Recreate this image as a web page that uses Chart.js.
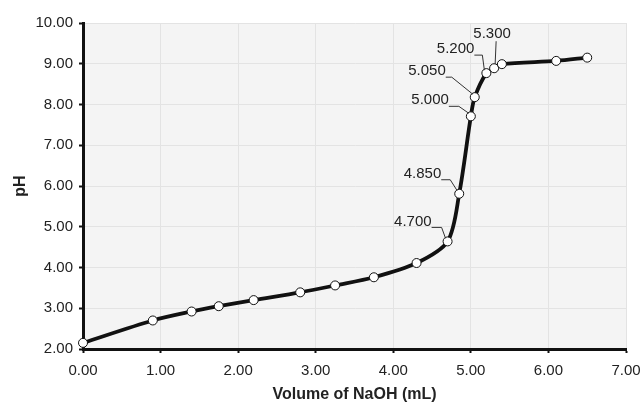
<!DOCTYPE html>
<html>
<head>
<meta charset="utf-8">
<script src="https://cdn.jsdelivr.net/npm/chart.js@4/dist/chart.umd.min.js"></script>
<style>
html,body{margin:0;padding:0;background:#fff;}
#wrap{width:644px;height:402px;}
</style>
</head>
<body>
<div id="wrap"><canvas id="c" width="644" height="402"></canvas></div>
<script>
// Data
const volumeNaOH = [0.00, 0.90, 1.40, 1.75, 2.20, 2.80, 3.25, 3.75, 4.30, 4.70, 4.85, 5.00, 5.05, 5.20, 5.30, 5.40, 6.10, 6.50];
const pHValues   = [2.15, 2.70, 2.92, 3.05, 3.20, 3.39, 3.56, 3.76, 4.11, 4.64, 5.81, 7.71, 8.18, 8.77, 8.89, 8.99, 9.07, 9.15];
const labeledVolumes = [4.70, 4.85, 5.00, 5.05, 5.20, 5.30];
const xTicks = [0, 1, 2, 3, 4, 5, 6, 7];
const yTicks = [2, 3, 4, 5, 6, 7, 8, 9, 10];

// label leader styling: [textRightDx, underlineDy, kneeDx]
const leaderStyle = {
  '4.700': [-16, -14, -6],
  '4.850': [-18, -14, -9],
  '5.000': [-22, -10, -12],
  '5.050': [-29, -20, -23],
  '5.200': [-12, -18, -4]
};

const points = volumeNaOH.map((v, i) => ({x: v, y: pHValues[i]}));
const FONT = '"Liberation Sans", Arial, sans-serif';
const TXT = '#222';

const bgPlugin = {
  id: 'plotBg',
  beforeDraw(chart) {
    const {ctx, chartArea: a} = chart;
    ctx.save();
    ctx.fillStyle = '#f4f4f4';
    ctx.fillRect(a.left, a.top, a.right - a.left, a.bottom - a.top);
    ctx.restore();
  }
};

const labelPlugin = {
  id: 'pointLabels',
  afterDatasetsDraw(chart) {
    const ctx = chart.ctx;
    const meta = chart.getDatasetMeta(0);
    ctx.save();
    ctx.font = '15px ' + FONT;
    ctx.fillStyle = TXT;
    ctx.strokeStyle = '#333';
    ctx.lineWidth = 1;
    labeledVolumes.forEach(v => {
      const idx = volumeNaOH.indexOf(v);
      const el = meta.data[idx];
      const px = el.x, py = el.y;
      const text = v.toFixed(3);
      const st = leaderStyle[text];
      if (st) {
        const [tdx, udy, kdx] = st;
        ctx.textAlign = 'right';
        ctx.textBaseline = 'middle';
        ctx.fillText(text, px + tdx, py + udy - 6);
        ctx.beginPath();
        ctx.moveTo(px + tdx, py + udy);
        ctx.lineTo(px + kdx, py + udy);
        ctx.lineTo(px - 2, py - 3);
        ctx.stroke();
      } else {
        ctx.textAlign = 'center';
        ctx.textBaseline = 'middle';
        ctx.fillText(text, px - 2, py - 34);
        ctx.beginPath();
        ctx.moveTo(px + 2, py - 27);
        ctx.lineTo(px + 1, py - 4);
        ctx.stroke();
      }
    });
    ctx.restore();
  }
};

new Chart(document.getElementById('c'), {
  type: 'scatter',
  data: {
    datasets: [{
      data: points,
      showLine: true,
      borderColor: '#111',
      borderWidth: 3.8,
      tension: 0.3,
      pointRadius: 4.5,
      pointBackgroundColor: '#fff',
      pointBorderColor: '#111',
      pointBorderWidth: 1,
      clip: false
    }]
  },
  options: {
    responsive: false,
    devicePixelRatio: 1,
    animation: false,
    events: [],
    layout: {padding: {top: 23, right: 18, left: 0, bottom: -2}},
    plugins: {legend: {display: false}, tooltip: {enabled: false}},
    scales: {
      x: {
        type: 'linear',
        min: 0, max: 7,
        afterBuildTicks: s => { s.ticks = xTicks.map(v => ({value: v})); },
        afterFit: s => { s.height = 55; s.paddingRight = 0; s.paddingLeft = 0; },
        ticks: {
          callback: v => Number(v).toFixed(2),
          color: TXT, font: {size: 15, family: FONT}, padding: 9, maxRotation: 0
        },
        grid: {color: '#e3e3e3', lineWidth: 1, tickColor: '#111', tickLength: 4, tickWidth: 2},
        border: {display: true, color: '#111', width: 3},
        title: {display: true, text: 'Volume of NaOH (mL)', color: TXT,
                font: {size: 16, weight: 'bold', family: FONT}, padding: {top: 2, bottom: 0}}
      },
      y: {
        type: 'linear',
        min: 2, max: 10,
        afterBuildTicks: s => { s.ticks = yTicks.map(v => ({value: v})); },
        afterFit: s => { s.width = 83; s.paddingTop = 0; s.paddingBottom = 0; },
        ticks: {
          callback: v => Number(v).toFixed(2),
          color: TXT, font: {size: 15, family: FONT}, padding: 6
        },
        grid: {color: '#e3e3e3', lineWidth: 1, tickColor: '#111', tickLength: 4, tickWidth: 2},
        border: {display: true, color: '#111', width: 3},
        title: {display: true, text: 'pH', color: TXT,
                font: {size: 16, weight: 'bold', family: FONT}, padding: {top: 11, bottom: 0}}
      }
    }
  },
  plugins: [bgPlugin, labelPlugin]
});
</script>
</body>
</html>
